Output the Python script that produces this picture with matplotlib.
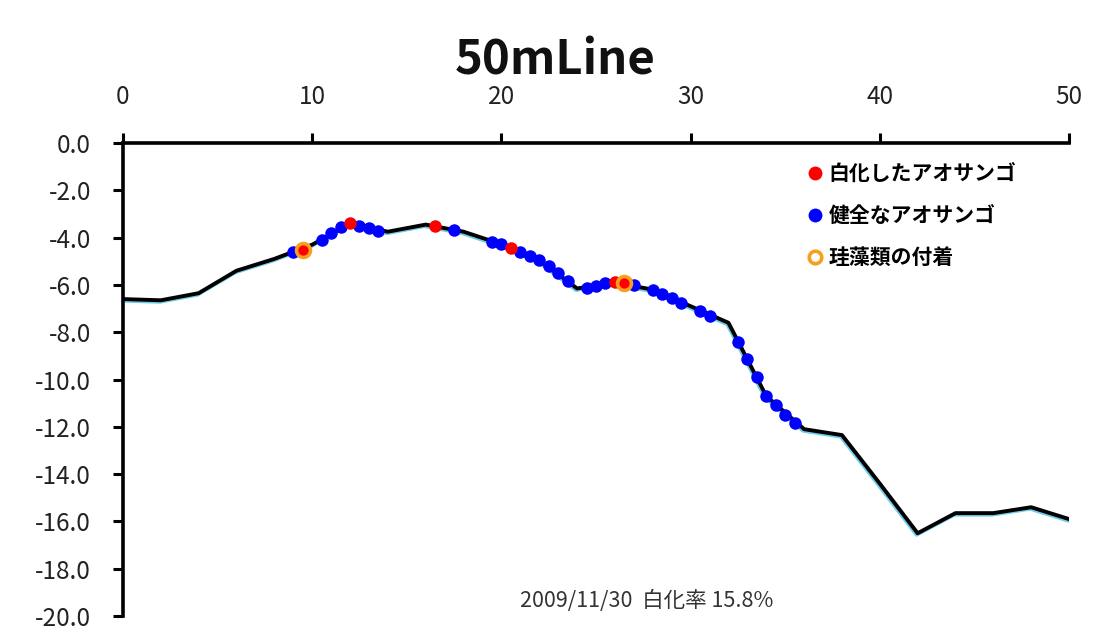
import matplotlib
matplotlib.use("Agg")
import matplotlib.pyplot as plt
import matplotlib.patheffects as pe
from matplotlib.lines import Line2D

plt.rcParams['font.family'] = ['Noto Sans CJK JP', 'DejaVu Sans']
plt.rcParams['axes.unicode_minus'] = False

# seabed profile along the line (distance m, depth m)
dist = [0, 2, 4, 6, 8, 10, 12, 14, 16, 18, 20, 22, 24, 26, 28, 30, 32, 34,
        36, 38, 40, 42, 44, 46, 48, 50]
depth = [-6.6, -6.65, -6.35, -5.4, -4.9, -4.3, -3.4, -3.75, -3.45, -3.75,
         -4.28, -4.95, -6.15, -5.9, -6.2, -6.9, -7.6, -10.7, -12.1, -12.35,
         -14.4, -16.5, -15.65, -15.65, -15.4, -15.9]

# healthy corals
healthy_x = [9.0, 10.5, 11.0, 11.5, 12.5, 13.0, 13.5, 17.5, 19.5, 20.0, 21.0,
             21.5, 22.0, 22.5, 23.0, 23.5, 24.5, 25.0, 25.5, 27.0, 28.0, 28.5,
             29.0, 29.5, 30.5, 31.0, 32.5, 33.0, 33.5, 34.0, 34.5, 35.0, 35.5]
healthy_y = [-4.6, -4.1, -3.82, -3.55, -3.5, -3.6, -3.7, -3.68, -4.17, -4.28,
             -4.6, -4.77, -4.95, -5.22, -5.5, -5.85, -6.15, -6.05, -5.93, -6.0,
             -6.22, -6.37, -6.57, -6.75, -7.1, -7.3, -8.4, -9.15, -9.88,
             -10.68, -11.08, -11.48, -11.82]

# bleached corals
bleached_x = [9.5, 12.0, 16.5, 20.5, 26.0, 26.5]
bleached_y = [-4.52, -3.39, -3.5, -4.43, -5.89, -5.93]

# diatom attachment
diatom_x = [9.5, 26.5]
diatom_y = [-4.52, -5.93]

xticks = [0, 10, 20, 30, 40, 50]
yticks = [0, -2, -4, -6, -8, -10, -12, -14, -16, -18, -20]

fig = plt.figure(figsize=(10.99, 6.35), dpi=100)
ax = fig.add_axes([0.1119, 0.0299, 0.8608, 0.7449])

ax.plot(dist, depth, color='black', lw=2.8, zorder=2,
        path_effects=[pe.SimpleLineShadow(offset=(-0.8, -1.1), shadow_color='#5cc8e6', alpha=0.9),
                      pe.Normal()])

ax.plot(healthy_x, healthy_y, 'o', color='#0000ff', ms=9, mec='none', zorder=3)
ax.plot(bleached_x, bleached_y, 'o', color='#ff0000', ms=9, mec='none', zorder=4)
ax.plot(diatom_x, diatom_y, 'o', mfc='none', mec='#f5a01e', mew=2.6, ms=10, zorder=5)

ax.set_xlim(0, 50)
ax.set_ylim(-20, 0)
ax.set_xticks(xticks)
ax.set_yticks(yticks)
ax.set_yticklabels(['%.1f' % v for v in yticks])

for s in ['right', 'bottom']:
    ax.spines[s].set_visible(False)
for s in ['left', 'top']:
    ax.spines[s].set_linewidth(2.6)

ax.xaxis.tick_top()
ax.tick_params(axis='x', direction='out', length=7, width=2.2, pad=17, labelsize=17.5)
ax.tick_params(axis='y', direction='out', length=7, width=2.2, pad=16, labelsize=17.5)
for lab in ax.get_xticklabels() + ax.get_yticklabels():
    lab.set_color('#222222')

handles = [
    Line2D([], [], ls='none', marker='o', color='#ff0000', ms=10, mec='none'),
    Line2D([], [], ls='none', marker='o', color='#0000ff', ms=10, mec='none'),
    Line2D([], [], ls='none', marker='o', mfc='none', mec='#f5a01e', mew=2.6, ms=9),
]
labels = ['白化したアオサンゴ', '健全なアオサンゴ', '珪藻類の付着']
ax.legend(handles, labels, loc='upper left', bbox_to_anchor=(0.703, 0.997),
          frameon=False, handlelength=0.8, handletextpad=0.25, labelspacing=1.0,
          prop={'size': 15, 'weight': 'bold'})

ax.text(0.554, 0.032, '2009/11/30  白化率 15.8%', transform=ax.transAxes,
        ha='center', va='center', fontsize=15.5, color='#333333')

fig.text(0.505, 0.905, '50mLine', ha='center', va='center', fontsize=34,
         fontweight='bold', color='#111111')

fig.savefig('out.png', dpi=100)
